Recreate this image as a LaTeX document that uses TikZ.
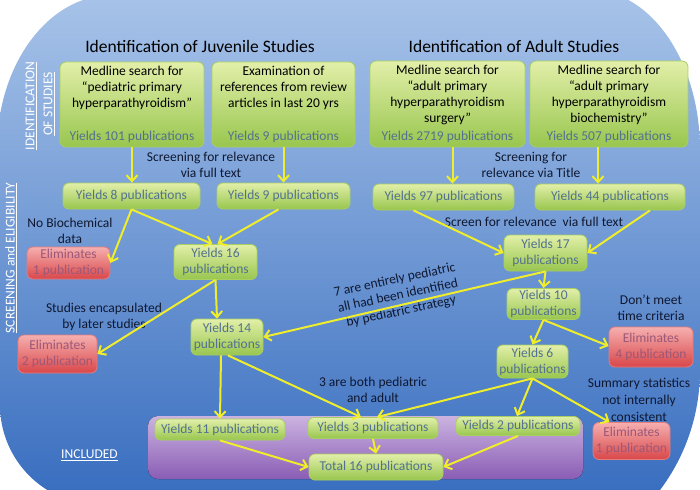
\documentclass[tikz,border=0pt]{standalone}
\usepackage{fontspec}
\setmainfont{Carlito}
\usetikzlibrary{arrows.meta}
\definecolor{bgtop}{HTML}{A6C2E8}
\definecolor{bgbot}{HTML}{3A6FC0}
\definecolor{gtop}{HTML}{E2EFA9}
\definecolor{gbot}{HTML}{98C64E}
\definecolor{gedge}{HTML}{A9CF62}
\definecolor{rtop}{HTML}{F6AFAF}
\definecolor{rbot}{HTML}{D9474A}
\definecolor{redge}{HTML}{E57C7C}
\definecolor{rtext}{HTML}{9B5878}
\definecolor{ptop}{HTML}{CBB3E0}
\definecolor{pbot}{HTML}{8A5DB5}
\definecolor{ytext}{HTML}{53718E}
\definecolor{lbltext}{HTML}{0F1830}
\definecolor{ylw}{HTML}{F0EE2A}
\begin{document}
\begin{tikzpicture}[x=1pt,y=-1pt,
 gbox/.style={draw=gedge,line width=0.8pt,rounded corners=6pt,top color=gtop,bottom color=gbot,align=center,inner sep=1pt,font=\fontsize{13.5}{16}\selectfont},
 ybox/.style={gbox,text=ytext},
 rbox/.style={draw=redge,line width=0.8pt,rounded corners=6pt,top color=rtop,bottom color=rbot,align=center,inner sep=1pt,text=rtext,font=\fontsize{13.5}{16}\selectfont},
 lbl/.style={align=center,text=lbltext,font=\fontsize{13.5}{16}\selectfont},
 side/.style={text=white,font=\fontsize{13.5}{16}\selectfont},
 arr/.style={draw=ylw,line width=2pt,-{Straight Barb[length=6pt,width=11pt]}}]
\useasboundingbox (0,0) rectangle (700,489);
% background panel
\begin{scope}
\clip (-3,150) .. controls (-3,64.4) and (48.5,-5) .. (112,-5) -- (590,-10)
 .. controls (650.8,-10) and (700,61.6) .. (700,150) -- (700,370)
 .. controls (700,480.5) and (610.5,570) .. (500,570) -- (100,505)
 .. controls (44.8,505) and (0,460.2) .. (0,405) -- cycle;
\shade[top color=bgtop,bottom color=bgbot] (0,0) rectangle (700,489);
\end{scope}
\fill[top color=ptop,bottom color=pbot,rounded corners=10pt] (148,416) rectangle (583,479);
% side headings
\node[side,rotate=90] (sid1) at (31,106) {\underline{IDENTIFICATION}};
\node[side,rotate=90] (sid2) at (49,104) {\underline{OF STUDIES}};
\node[side,rotate=90] (sscr) at (11,258) {\underline{SCREENING and ELIGIBILITY}};
\node[side] (sinc) at (89.5,455) {\underline{INCLUDED}};
\node[text=black,font=\fontsize{17.5}{21}\selectfont] (tjuv) at (200,46) {Identification of Juvenile Studies};
\node[text=black,font=\fontsize{17.5}{21}\selectfont] (tadu) at (514,46) {Identification of Adult Studies};
% searches
\node[gbox,minimum width=144pt,minimum height=85pt] (j1) at (132,104.5) {Medline search for\\“pediatric primary\\hyperparathyroidism”\\[17pt]\textcolor{ytext}{Yields 101 publications}};
\node[gbox,minimum width=143pt,minimum height=85pt] (j2) at (283.5,104.5) {Examination of\\references from review\\articles in last 20 yrs\\[17pt]\textcolor{ytext}{Yields 9 publications}};
\node[gbox,minimum width=155pt,minimum height=86pt] (a1) at (447.5,104) {Medline search for\\“adult primary\\hyperparathyroidism\\surgery”\\[2pt]\textcolor{ytext}{Yields 2719 publications}};
\node[gbox,minimum width=158pt,minimum height=86pt] (a2) at (609,104) {Medline search for\\“adult primary\\hyperparathyroidism\\biochemistry”\\[2pt]\textcolor{ytext}{Yields 507 publications}};
% screening
\node[ybox,minimum width=137pt,minimum height=26pt] (y8) at (131.5,196) {Yields 8 publications};
\node[ybox,minimum width=133pt,minimum height=26pt] (y9) at (283.5,196) {Yields 9 publications};
\node[ybox,minimum width=141pt,minimum height=26pt] (y97) at (443.5,197) {Yields 97 publications};
\node[ybox,minimum width=150pt,minimum height=26pt] (y44) at (610,197) {Yields 44 publications};
\node[rbox,minimum width=83pt,minimum height=32pt] (e1) at (68.5,263) {Eliminates\\1 publication};
\node[ybox,minimum width=83pt,minimum height=35pt] (y16) at (215.5,262) {Yields 16\\publications};
\node[ybox,minimum width=83pt,minimum height=36pt] (y17) at (545.5,253) {Yields 17\\publications};
\node[rbox,minimum width=79pt,minimum height=38pt] (e2) at (57.5,354) {Eliminates\\2 publication};
\node[ybox,minimum width=72pt,minimum height=36pt] (y14) at (227,337) {Yields 14\\publications};
\node[ybox,minimum width=73pt,minimum height=31pt] (y10) at (543.5,304) {Yields 10\\publications};
\node[rbox,minimum width=84pt,minimum height=40pt] (e4) at (651,347) {Eliminates\\4 publication};
\node[ybox,minimum width=71pt,minimum height=33pt] (y6) at (532.5,361.5) {Yields 6\\publications};
\node[rbox,minimum width=77pt,minimum height=37pt] (e5) at (631.5,441) {Eliminates\\1 publication};
% included
\node[ybox,minimum width=130pt,minimum height=21pt] (y11) at (220,429.5) {Yields 11 publications};
\node[ybox,minimum width=130pt,minimum height=21pt] (y3) at (373,428) {Yields 3 publications};
\node[ybox,minimum width=124pt,minimum height=19pt] (y2) at (518,426) {Yields 2 publications};
\node[ybox,minimum width=134pt,minimum height=26pt] (tot) at (376,467) {Total 16 publications};
% notes
\node[lbl] (n1) at (211,164.5) {Screening for relevance\\via full text};
\node[lbl] (n2) at (531,164.5) {Screening for\\relevance via Title};
\node[lbl] (n3) at (70,231) {No Biochemical\\data};
\node[lbl] (n4) at (534,222) {Screen for relevance\ \ via full text};
\node[lbl] (n5) at (104,316.5) {Studies encapsulated\\by later studies};
\node[lbl] (n6) at (651,308) {Don’t meet\\time criteria};
\node[lbl] (n7) at (373,390) {3 are both pediatric\\and adult};
\node[lbl,font=\fontsize{13.5}{17}\selectfont] (n8) at (639,400) {Summary statistics\\not internally\\consistent};
\node[lbl,rotate=12] (n9) at (398,296) {7 are entirely pediatric\\all had been identified\\by pediatric strategy};
% arrows
\draw[arr] (j1.south) -- (j1.south |- y8.north);\draw[arr] (j2.south) -- (j2.south |- y9.north);
\draw[arr] ([xshift=5pt]a1.south) -- ([xshift=5pt]a1.south |- y97.north);\draw[arr] ([xshift=-11pt]a2.south) -- ([xshift=-11pt]a2.south |- y44.north);
\draw[arr] (y8.south) -- (e1.east);\draw[arr] (y8.south) -- ([xshift=-3pt]y16.north);\draw[arr] ([xshift=-5pt]y9.south) -- ([xshift=2pt]y16.north);
\draw[arr] ([xshift=-30pt]y97.south) -- (y17.west);\draw[arr] ([xshift=40pt]y44.south) -- (y17.east);
\draw[arr] (y16.south) -- (e2.east);\draw[arr] (y16.south) -- ([xshift=-10pt]y14.north);
\draw[arr] (y17.south) -- (y10.north);\draw[arr] (y17.south) -- (y14.east);
\draw[arr] (y10.south) -- (y6.north);\draw[arr] (y10.south) -- ([yshift=1pt]e4.west);
\draw[arr] (y6.south) -- ([xshift=4pt]y3.north);\draw[arr] (y6.south) -- ([xshift=-1pt]y2.north);\draw[arr] (y6.south) -- ([xshift=-22pt]e5.north);
\draw[arr] ([xshift=-6pt]y14.south) -- (y11.north);\draw[arr] ([xshift=1pt]y14.south) -- ([xshift=-12pt]y3.north);
\draw[arr] (y11.south) -- (tot.west);\draw[arr] (y3.south) -- (tot.north);\draw[arr] (y2.south) -- (tot.east);
\end{tikzpicture}
\end{document}
